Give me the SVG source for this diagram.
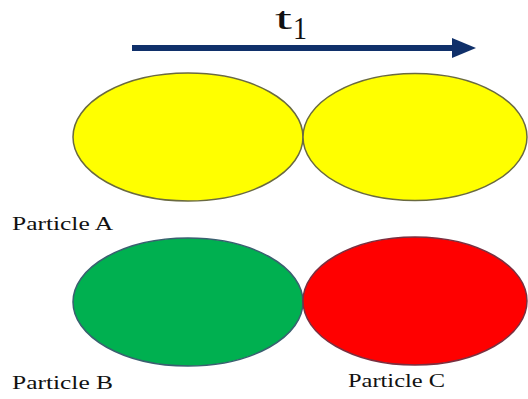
<svg xmlns="http://www.w3.org/2000/svg" width="528" height="399" viewBox="0 0 528 399">
<style>
.lbl{font-family:"Liberation Serif","Times New Roman",serif;font-size:18px;fill:#111}
.p{stroke-width:1.5}
</style>
<rect width="528" height="399" fill="#fff"/>
<g id="connectors">
<line x1="132" y1="48" x2="456" y2="48" stroke="#10306a" stroke-width="6"/>
<polygon points="452,38 476,48 452,58" fill="#10306a"/>
</g>
<g id="time-label">
<text x="275" y="28.5" class="lbl" style="font-size:31px" textLength="17" lengthAdjust="spacingAndGlyphs">t</text>
<text x="293" y="39" class="lbl" style="font-size:31px" textLength="14" lengthAdjust="spacingAndGlyphs">1</text>
</g>
<g id="particleA1"><ellipse class="p" cx="188" cy="137" rx="115" ry="64" fill="#ffff00" stroke="#6a6a40"/></g>
<g id="particleA2"><ellipse class="p" cx="415" cy="137" rx="112" ry="63.5" fill="#ffff00" stroke="#6a6a40"/></g>
<g id="particleB"><ellipse class="p" cx="188" cy="302" rx="115" ry="64" fill="#00b050" stroke="#3a6070"/></g>
<g id="particleC"><ellipse class="p" cx="415" cy="301" rx="112" ry="64" fill="#ff0000" stroke="#7a3040"/></g>
<g id="labels">
<text x="12" y="230" class="lbl" textLength="101" lengthAdjust="spacingAndGlyphs">Particle A</text>
<text x="12" y="389" class="lbl" textLength="101" lengthAdjust="spacingAndGlyphs">Particle B</text>
<text x="348" y="387" class="lbl" textLength="97" lengthAdjust="spacingAndGlyphs">Particle C</text>
</g>
</svg>
